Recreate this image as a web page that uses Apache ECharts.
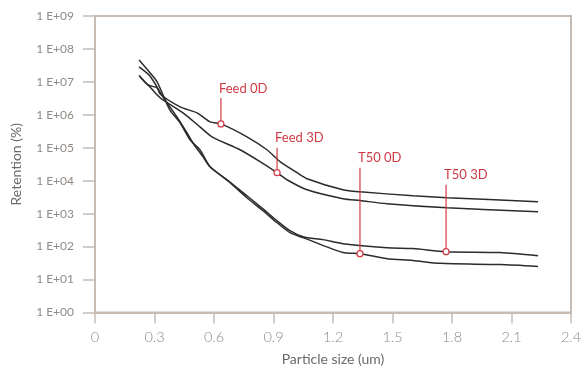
<!DOCTYPE html>
<html><head><meta charset="utf-8">
<script src="https://cdn.jsdelivr.net/npm/echarts@6/dist/echarts.min.js"></script>
<style>html,body{margin:0;padding:0;background:#fff}#c{width:586px;height:375px}</style>
</head><body><div id="c"></div>
<script>
// ---- data (x in um, y in % retention) ----
const feed0D = [[0.222,1.6e7],[0.267,8.1e6],[0.313,6.6e6],[0.328,4.3e6],[0.429,1.75e6],[0.514,1.15e6],[0.58,6.1e5],[0.635,5.3e5],[0.766,2.15e5],[0.867,8.7e4],[0.933,3.8e4],[1.019,1.75e4],[1.069,1.15e4],[1.25,5.3e3],[1.336,4.6e3],[1.603,3.5e3],[1.775,3.05e3],[2.234,2.3e3]];
const feed3D = [[0.227,1.4e7],[0.277,7.0e6],[0.328,3.3e6],[0.444,1.15e6],[0.529,4.3e5],[0.59,2.15e5],[0.731,8.7e4],[0.832,3.8e4],[0.918,1.75e4],[0.968,1.07e4],[1.069,5.3e3],[1.25,2.85e3],[1.336,2.5e3],[1.472,2.0e3],[1.775,1.5e3],[2.234,1.15e3]];
const t503D = [[0.222,4.6e7],[0.277,1.9e7],[0.313,1.0e7],[0.343,4.0e6],[0.378,1.4e6],[0.429,5.7e5],[0.479,1.75e5],[0.529,8.7e4],[0.58,2.65e4],[0.666,1.07e4],[0.766,3.5e3],[0.847,1.4e3],[0.918,610],[0.983,305],[1.049,200],[1.149,163],[1.25,123],[1.472,93],[1.603,87],[1.77,70],[2.042,66],[2.234,53]];
const t500D = [[0.222,2.85e7],[0.277,1.5e7],[0.343,3.5e6],[0.413,8.7e5],[0.464,2.85e5],[0.494,1.4e5],[0.545,5.3e4],[0.58,2.65e4],[0.681,8.7e3],[0.766,3.05e3],[0.847,1.23e3],[0.918,530],[0.983,265],[1.049,187],[1.25,66],[1.336,61],[1.472,43],[1.603,38],[1.74,31],[2.042,28.5],[2.234,25]];
const annoNames = ['Feed 0D','Feed 3D','T50 0D','T50 3D'];
const annoX = [0.635, 0.918, 1.336, 1.77];
const annoY = [5.3e5, 1.75e4, 61, 70];
const xTicks = [0,0.3,0.6,0.9,1.2,1.5,1.8,2.1,2.4];

// ---- styles ----
const leaderPx = [26, 25, 86, 67];
const AX = '#c6bcb4', RED = '#cf3a45', LINE = '#2b2b2b', FONT = 'Lato';
const chart = echarts.init(document.getElementById('c'));
const lineSeries = (name, d) => ({name, type:'line', data:d, showSymbol:false, smooth:0.25,
  lineStyle:{color:LINE, width:1.5}, z:2});
chart.setOption({
  animation:false,
  grid:{left:95, right:15, top:16, bottom:62.5, show:true, borderColor:AX, borderWidth:2},
  xAxis:{type:'value', min:xTicks[0], max:xTicks[xTicks.length-1], interval:0.3,
    axisLine:{show:true, lineStyle:{color:AX, width:2}},
    axisTick:{show:true, inside:false, length:11, lineStyle:{color:AX, width:1.5}},
    axisLabel:{color:'#8f8a86', fontSize:14.5, fontFamily:FONT, fontWeight:300, margin:17,
      formatter:v=>String(Math.round(v*10)/10)},
    splitLine:{show:false},
    name:'Particle size (um)', nameLocation:'middle', nameGap:40,
    nameTextStyle:{color:'#6e6965', fontSize:14, fontFamily:FONT}},
  yAxis:{type:'log', logBase:10, min:1, max:1e9, interval:1,
    axisLine:{show:true, lineStyle:{color:AX, width:2}},
    axisTick:{show:true, length:12, lineStyle:{color:AX, width:1.5}},
    axisLabel:{color:'#8f8a86', fontSize:12, fontFamily:FONT, margin:21,
      formatter:v=>{const e=Math.round(Math.log10(v));return '1 E+'+(e<10?'0':'')+e;}},
    splitLine:{show:false},
    name:'Retention (%)', nameLocation:'middle', nameGap:72,
    nameTextStyle:{color:'#6e6965', fontSize:14, fontFamily:FONT}},
  series:[
    lineSeries('Feed 0D', feed0D), lineSeries('Feed 3D', feed3D),
    lineSeries('T50 0D', t500D), lineSeries('T50 3D', t503D),
    {type:'custom', z:5, data:annoX.map((x,i)=>[x, annoY[i]]),
     renderItem:(params, api)=>{
       const i = params.dataIndex;
       const p = api.coord([api.value(0), api.value(1)]);
       const len = leaderPx[i];
       return {type:'group', children:[
         {type:'line', shape:{x1:p[0], y1:p[1]-3, x2:p[0], y2:p[1]-len}, style:{stroke:RED, lineWidth:1.2}},
         {type:'circle', shape:{cx:p[0], cy:p[1], r:3}, style:{fill:'#fff', stroke:RED, lineWidth:1.2}},
         {type:'text', style:{text:annoNames[i], x:p[0]-2, y:p[1]-len-3, align:'left', verticalAlign:'bottom',
           fill:RED, fontSize:13, fontFamily:FONT}}
       ]};
     }}
  ]
});
</script></body></html>
